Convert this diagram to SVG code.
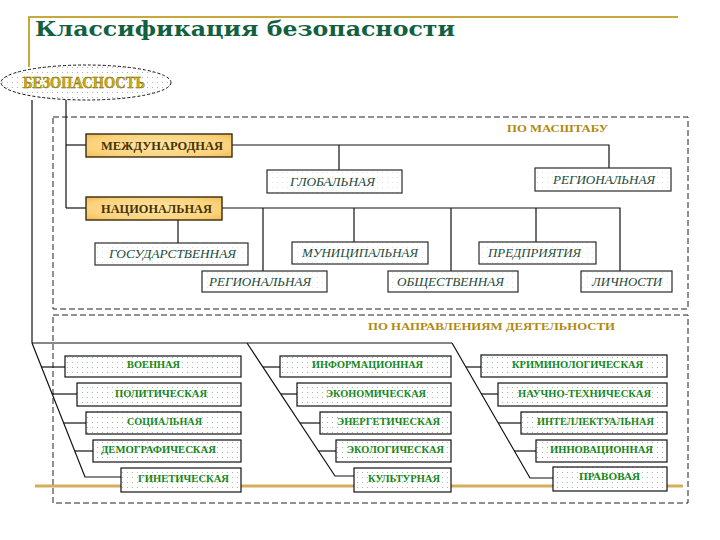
<svg xmlns="http://www.w3.org/2000/svg" width="720" height="540" viewBox="0 0 720 540">
<defs>
  <pattern id="dots" width="5" height="5" patternUnits="userSpaceOnUse">
    <rect width="5" height="5" fill="#ffffff"/>
    <circle cx="2.5" cy="2.5" r="0.6" fill="#9eab9e"/>
  </pattern>
  <pattern id="dotsLight" width="5" height="5" patternUnits="userSpaceOnUse">
    <rect width="5" height="5" fill="#ffffff"/>
    <circle cx="2.5" cy="2.5" r="0.5" fill="#d6ddd6"/>
  </pattern>
  <radialGradient id="gold" cx="0.5" cy="0.5" r="0.7">
    <stop offset="0" stop-color="#fde6a6"/>
    <stop offset="0.7" stop-color="#fad27c"/>
    <stop offset="1" stop-color="#f3bd52"/>
  </radialGradient>
  <style>
    .title{font-family:"DejaVu Serif","Liberation Serif",serif;font-weight:bold;font-size:21px;fill:#12603f}
    .gline{stroke:#c9a83a;stroke-width:2;fill:none}
    .oline{stroke:#d6ad5a;stroke-width:3;fill:none}
    .dash{fill:none;stroke:#222;stroke-width:1;stroke-dasharray:6 3}
    .conn line,.conn polyline{stroke:#111;stroke-width:1.2;fill:none}
    .goldbox{fill:url(#gold);stroke:#3a2a10;stroke-width:1.4}
    .goldtxt{font-family:"Liberation Serif","DejaVu Serif",serif;font-weight:bold;font-size:12px;fill:#4a3200;text-anchor:middle}
    .ibox{fill:url(#dotsLight);stroke:#2a2a2a;stroke-width:1.2}
    .itxt{font-family:"Liberation Serif","DejaVu Serif",serif;font-style:italic;font-size:12px;fill:#1c4a3a;text-anchor:middle}
    .gbox{fill:url(#dots);stroke:#111;stroke-width:1.2}
    .gtxt{font-family:"Liberation Serif","DejaVu Serif",serif;font-weight:bold;font-size:10.5px;fill:#16871a;text-anchor:middle}
    .head{font-family:"Liberation Serif","DejaVu Serif",serif;font-weight:bold;font-size:11px;fill:#b08a10;text-anchor:middle}
  </style>
</defs>

<!-- decorative frame lines -->
<polyline class="gline" points="29,67 29,17 678,17"/>
<text class="title" x="35" y="36" textLength="420" lengthAdjust="spacingAndGlyphs">Классификация  безопасности</text>

<!-- section frames -->
<rect class="dash" x="53" y="117" width="635" height="192"/>
<rect class="dash" x="53" y="315" width="635" height="188"/>
<line class="oline" x1="35" y1="486" x2="683" y2="486"/>

<text class="head" x="557.5" y="132" textLength="101" lengthAdjust="spacingAndGlyphs">ПО МАСШТАБУ</text>
<text class="head" x="491.5" y="330" textLength="247" lengthAdjust="spacingAndGlyphs">ПО НАПРАВЛЕНИЯМ ДЕЯТЕЛЬНОСТИ</text>

<!-- connectors -->
<g id="connectors" class="conn">
  <line x1="32" y1="100" x2="32" y2="343"/>
  <line x1="66" y1="100" x2="66" y2="208"/>
  <line x1="66" y1="145" x2="86" y2="145"/>
  <line x1="66" y1="208" x2="86" y2="208"/>
  <polyline points="232,145 609,145 609,168"/>
  <line x1="339" y1="145" x2="339" y2="170"/>
  <polyline points="222,208 620,208 620,271"/>
  <line x1="263" y1="208" x2="263" y2="271"/>
  <line x1="354" y1="208" x2="354" y2="242"/>
  <line x1="451" y1="208" x2="451" y2="271"/>
  <line x1="536" y1="208" x2="536" y2="242"/>
  <line x1="178" y1="220" x2="178" y2="243"/>
  <!-- bottom section -->
  <line x1="32" y1="343" x2="452" y2="343"/>
  <polyline points="32,343 85,477 121,477"/>
  <polyline points="247,343 335,476 354,476"/>
  <polyline points="452,343 530,478 553,478"/>
  <line x1="41.5" y1="367" x2="65" y2="367"/>
  <line x1="52" y1="394" x2="77" y2="394"/>
  <line x1="63.5" y1="423" x2="86" y2="423"/>
  <line x1="74.7" y1="451" x2="93" y2="451"/>
  <line x1="263" y1="367" x2="280" y2="367"/>
  <line x1="281" y1="394" x2="297" y2="394"/>
  <line x1="300" y1="423" x2="320" y2="423"/>
  <line x1="318.5" y1="451" x2="336" y2="451"/>
  <line x1="466" y1="367" x2="481" y2="367"/>
  <line x1="481" y1="394" x2="498" y2="394"/>
  <line x1="498" y1="423" x2="521" y2="423"/>
  <line x1="514" y1="451" x2="536" y2="451"/>
</g>

<!-- root -->
<g id="n-root">
  <ellipse cx="86" cy="82.5" rx="85" ry="17.5" fill="url(#dots)" stroke="#111" stroke-width="1" stroke-dasharray="3 2"/>
  <text x="84" y="88" font-family="Liberation Serif, DejaVu Serif, serif" font-weight="bold" font-size="16" fill="#d2b00a" stroke="#6b5a00" stroke-width="0.4" text-anchor="middle" textLength="122" lengthAdjust="spacingAndGlyphs">БЕЗОПАСНОСТЬ</text>
</g>

<!-- scale section -->
<g id="n-mezhd"><rect class="goldbox" x="86" y="134" width="146" height="23"/><text class="goldtxt" x="162" y="150" textLength="122" lengthAdjust="spacingAndGlyphs">МЕЖДУНАРОДНАЯ</text></g>
<g id="n-glob"><rect class="ibox" x="267" y="170" width="135" height="23"/><text class="itxt" x="332.5" y="186" textLength="85" lengthAdjust="spacingAndGlyphs">ГЛОБАЛЬНАЯ</text></g>
<g id="n-reg1"><rect class="ibox" x="535" y="168" width="136" height="23"/><text class="itxt" x="604" y="183.5" textLength="102" lengthAdjust="spacingAndGlyphs">РЕГИОНАЛЬНАЯ</text></g>
<g id="n-nac"><rect class="goldbox" x="86" y="197" width="136" height="23"/><text class="goldtxt" x="156.5" y="213" textLength="111" lengthAdjust="spacingAndGlyphs">НАЦИОНАЛЬНАЯ</text></g>
<g id="n-gos"><rect class="ibox" x="95" y="243" width="153" height="22"/><text class="itxt" x="172.5" y="258" textLength="127" lengthAdjust="spacingAndGlyphs">ГОСУДАРСТВЕННАЯ</text></g>
<g id="n-mun"><rect class="ibox" x="292" y="242" width="136" height="22"/><text class="itxt" x="360" y="257" textLength="116" lengthAdjust="spacingAndGlyphs">МУНИЦИПАЛЬНАЯ</text></g>
<g id="n-pred"><rect class="ibox" x="479" y="242" width="117" height="22"/><text class="itxt" x="534.5" y="257" textLength="93" lengthAdjust="spacingAndGlyphs">ПРЕДПРИЯТИЯ</text></g>
<g id="n-reg2"><rect class="ibox" x="202" y="271" width="125" height="21"/><text class="itxt" x="260" y="286" textLength="102" lengthAdjust="spacingAndGlyphs">РЕГИОНАЛЬНАЯ</text></g>
<g id="n-obsh"><rect class="ibox" x="388" y="271" width="130" height="21"/><text class="itxt" x="450.5" y="286" textLength="107" lengthAdjust="spacingAndGlyphs">ОБЩЕСТВЕННАЯ</text></g>
<g id="n-lich"><rect class="ibox" x="581" y="271" width="91" height="21"/><text class="itxt" x="627" y="286" textLength="70" lengthAdjust="spacingAndGlyphs">ЛИЧНОСТИ</text></g>

<!-- activity section: left column -->
<g id="n-voen"><rect class="gbox" x="65" y="356" width="176" height="21"/><text class="gtxt" x="153.5" y="368" textLength="53" lengthAdjust="spacingAndGlyphs">ВОЕННАЯ</text></g>
<g id="n-polit"><rect class="gbox" x="77" y="383" width="164" height="23"/><text class="gtxt" x="161" y="397" textLength="92" lengthAdjust="spacingAndGlyphs">ПОЛИТИЧЕСКАЯ</text></g>
<g id="n-soc"><rect class="gbox" x="86" y="412" width="155" height="22"/><text class="gtxt" x="164.5" y="425" textLength="75" lengthAdjust="spacingAndGlyphs">СОЦИАЛЬНАЯ</text></g>
<g id="n-demo"><rect class="gbox" x="93" y="440" width="148" height="22"/><text class="gtxt" x="158.5" y="453" textLength="115" lengthAdjust="spacingAndGlyphs">ДЕМОГРАФИЧЕСКАЯ</text></g>
<g id="n-gen"><rect class="gbox" x="121" y="468" width="120" height="24"/><text class="gtxt" x="183.5" y="482" textLength="91" lengthAdjust="spacingAndGlyphs">ГИНЕТИЧЕСКАЯ</text></g>

<!-- middle column -->
<g id="n-inf"><rect class="gbox" x="280" y="356" width="171" height="21"/><text class="gtxt" x="367.5" y="368" textLength="111" lengthAdjust="spacingAndGlyphs">ИНФОРМАЦИОННАЯ</text></g>
<g id="n-econ"><rect class="gbox" x="297" y="383" width="154" height="23"/><text class="gtxt" x="376" y="397" textLength="100" lengthAdjust="spacingAndGlyphs">ЭКОНОМИЧЕСКАЯ</text></g>
<g id="n-energ"><rect class="gbox" x="320" y="412" width="131" height="22"/><text class="gtxt" x="388.5" y="425" textLength="103" lengthAdjust="spacingAndGlyphs">ЭНЕРГЕТИЧЕСКАЯ</text></g>
<g id="n-ecol"><rect class="gbox" x="336" y="440" width="115" height="22"/><text class="gtxt" x="395.5" y="453" textLength="97" lengthAdjust="spacingAndGlyphs">ЭКОЛОГИЧЕСКАЯ</text></g>
<g id="n-kult"><rect class="gbox" x="354" y="468" width="97" height="24"/><text class="gtxt" x="404" y="482" textLength="72" lengthAdjust="spacingAndGlyphs">КУЛЬТУРНАЯ</text></g>

<!-- right column -->
<g id="n-krim"><rect class="gbox" x="481" y="355" width="186" height="22"/><text class="gtxt" x="577.5" y="368" textLength="131" lengthAdjust="spacingAndGlyphs">КРИМИНОЛОГИЧЕСКАЯ</text></g>
<g id="n-nauch"><rect class="gbox" x="498" y="383" width="169" height="23"/><text class="gtxt" x="584.5" y="397" textLength="133" lengthAdjust="spacingAndGlyphs">НАУЧНО-ТЕХНИЧЕСКАЯ</text></g>
<g id="n-intel"><rect class="gbox" x="521" y="412" width="146" height="22"/><text class="gtxt" x="595.5" y="425" textLength="117" lengthAdjust="spacingAndGlyphs">ИНТЕЛЛЕКТУАЛЬНАЯ</text></g>
<g id="n-innov"><rect class="gbox" x="536" y="440" width="131" height="22"/><text class="gtxt" x="601.5" y="453" textLength="103" lengthAdjust="spacingAndGlyphs">ИННОВАЦИОННАЯ</text></g>
<g id="n-prav"><rect class="gbox" x="553" y="467" width="114" height="24"/><text class="gtxt" x="609.5" y="480" textLength="61" lengthAdjust="spacingAndGlyphs">ПРАВОВАЯ</text></g>
</svg>
